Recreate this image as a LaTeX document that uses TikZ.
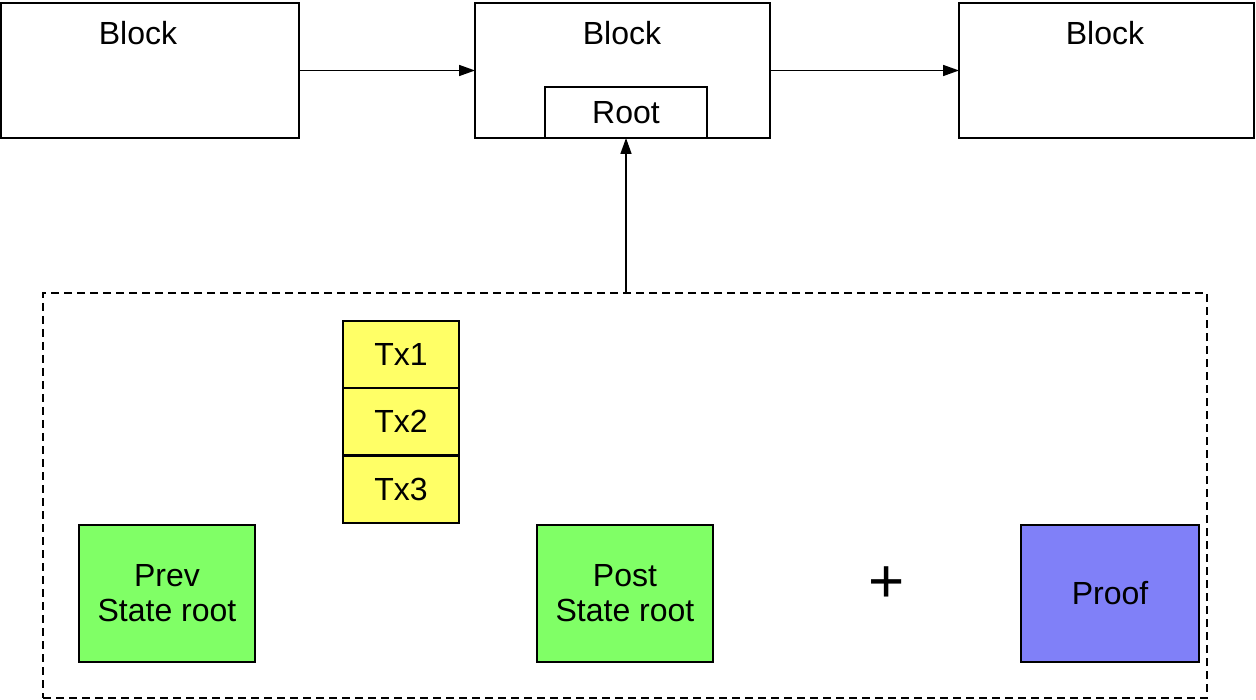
\documentclass[tikz,border=0pt]{standalone}
\usepackage{fontspec}
\setmainfont{Liberation Sans}
\usetikzlibrary{arrows.meta}
\definecolor{txyellow}{HTML}{FFFF66}
\definecolor{stategreen}{HTML}{80FF66}
\definecolor{proofblue}{HTML}{8080F8}

\begin{document}
\begin{tikzpicture}[x=0.5pt, y=-0.5pt,
	every node/.style={font=\fontsize{16}{17.5}\selectfont, inner sep=0pt, outer sep=0pt},
	box/.style={draw, line width=1pt, rectangle, align=center},
	chain/.style={line width=0.8pt, -{Triangle[length=8pt, width=5.5pt]}}]

% frame %{{{2

	\useasboundingbox (0,0) rectangle (1256,700);

% blocks %{{{2

	\node[box, minimum width=149pt, minimum height=67.5pt] (B1) at (150,70.5) {};
	\node[box, minimum width=147.5pt, minimum height=67.5pt] (B2) at (622.5,70.5) {};
	\node[box, minimum width=147.5pt, minimum height=67.5pt] (B3) at (1106.5,70.5) {};
	\node[box, minimum width=81pt, minimum height=25.5pt] (R) at (626,112.5) {Root};

	\node (B1t) at (138,33) {Block};
	\node (B2t) at (622,33) {Block};
	\node (B3t) at (1105,33) {Block};

% batch %{{{2

	\node[box, dashed, dash pattern=on 4pt off 2.5pt, minimum width=582pt, minimum height=202.5pt] (S) at (625,495.5) {};

	\foreach \i/\y in {1/354,2/421.5,3/489} {
		\node[box, fill=txyellow, minimum width=58pt, minimum height=33.5pt] (T\i) at (401,\y) {Tx\i};
	}

	\node[box, fill=stategreen, minimum width=88pt, minimum height=68.5pt] (P) at (167,593.5) {Prev\\State root};
	\node[box, fill=stategreen, minimum width=88pt, minimum height=68.5pt] (Q) at (625,593.5) {Post\\State root};
	\node[font=\fontsize{31}{31}\selectfont] (plus) at (887,585) {+};
	\node[box, fill=proofblue, minimum width=89pt, minimum height=68.5pt] (F) at (1110,593.5) {Proof};

% arrows %{{{2

	\draw[chain] (B1) -- (B2);
	\draw[chain] (B2) -- (B3);
	\draw[chain] (S.north -| R.south) -- (R.south);

\end{tikzpicture}
\end{document}
